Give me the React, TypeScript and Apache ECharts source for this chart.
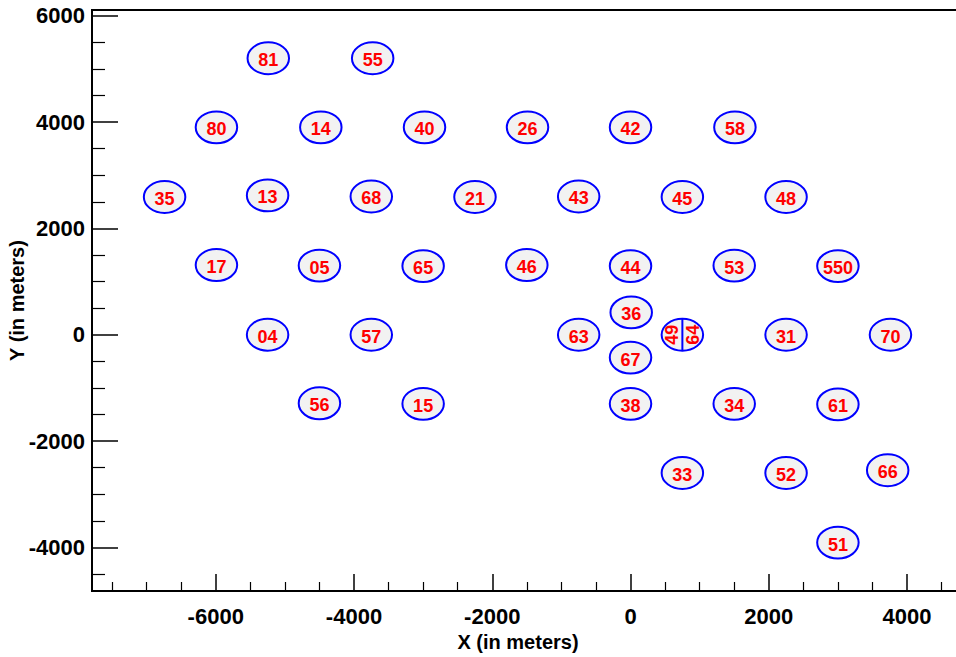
import React, { useEffect, useRef } from "react";
import * as echarts from "echarts";

// Station labels and positions (meters)
const stationIds = [
  "81", "55",
  "80", "14", "40", "26", "42", "58",
  "35", "13", "68", "21", "43", "45", "48",
  "17", "05", "65", "46", "44", "53", "550",
  "04", "57", "63", "36", "67", "49/64", "31", "70",
  "56", "15", "38", "34", "61",
  "33", "52", "66",
  "51",
];
const stationX = [
  -5240, -3730,
  -5990, -4480, -2980, -1490, 0, 1510,
  -6740, -5250, -3750, -2250, -750, 750, 2250,
  -5990, -4500, -3000, -1500, 0, 1500, 3000,
  -5250, -3750, -750, 10, 0, 750, 2250, 3760,
  -4500, -3000, 0, 1500, 3000,
  750, 2250, 3720,
  3000,
];
const stationY = [
  5200, 5200,
  3900, 3900, 3900, 3900, 3900, 3900,
  2590, 2620, 2600, 2590, 2600, 2590, 2590,
  1310, 1300, 1290, 1310, 1290, 1300, 1290,
  0, 0, 0, 420, -430, 0, 0, 0,
  -1290, -1300, -1300, -1300, -1310,
  -2600, -2600, -2550,
  -3910,
];
const STATION_DIAMETER = 600;

const xMajorTicks = [-6000, -4000, -2000, 0, 2000, 4000];
const xMinorTicks = [-7500, -7000, -6500, -5500, -5000, -4500, -3500, -3000, -2500, -1500, -1000, -500, 500, 1000, 1500, 2500, 3000, 3500, 4500];
const yMajorTicks = [-4000, -2000, 0, 2000, 4000, 6000];
const yMinorTicks = [-4500, -3500, -3000, -2500, -1500, -1000, -500, 500, 1000, 1500, 2500, 3000, 3500, 4500, 5000, 5500];

const X_MIN = -7790, X_MAX = 4766, Y_MIN = -4820, Y_MAX = 6107;

const FONT = "'Liberation Sans', Arial, Helvetica, sans-serif";

export default function App() {
  const ref = useRef<HTMLDivElement>(null);
  useEffect(() => {
    if (!ref.current) return;
    const chart = echarts.init(ref.current, undefined, { renderer: "svg" });
    const data = stationIds.map((id, i) => [stationX[i], stationY[i]]);
    const fmt = (v: number) => String(v);
    const baseX = {
      type: "value", min: X_MIN, max: X_MAX, gridIndex: 0, position: "bottom",
      splitLine: { show: false },
    };
    const baseY = {
      type: "value", min: Y_MIN, max: Y_MAX, gridIndex: 0, position: "left",
      splitLine: { show: false },
    };
    const option: any = {
      animation: false,
      backgroundColor: "#ffffff",
      grid: {
        left: 92, right: -4, top: 10, bottom: 66,
        containLabel: false, outerBoundsMode: "none",
        show: true, borderColor: "#000", borderWidth: 2, backgroundColor: "transparent",
      },
      xAxis: [
        {
          ...baseX,
          name: "X (in meters)", nameLocation: "middle", nameGap: 41, nameMoveOverlap: false,
          nameTextStyle: { fontFamily: FONT, fontWeight: "bold", fontSize: 20, color: "#000", padding: [0, 16, 0, 0] },
          axisLine: { show: true, onZero: false, lineStyle: { color: "#000", width: 2 } },
          axisTick: { show: true, inside: true, length: 17, customValues: xMajorTicks, lineStyle: { color: "#000", width: 1.5 } },
          axisLabel: { show: true, customValues: xMajorTicks, formatter: fmt, margin: 14, fontFamily: FONT, fontWeight: "bold", fontSize: 22, color: "#000" },
        },
        {
          ...baseX,
          axisLine: { show: false, onZero: false },
          axisTick: { show: true, inside: true, length: 9, customValues: xMinorTicks, lineStyle: { color: "#000", width: 1.2 } },
          axisLabel: { show: false },
        },
      ],
      yAxis: [
        {
          ...baseY,
          name: "Y (in meters)", nameLocation: "middle", nameGap: 65, nameMoveOverlap: false,
          nameTextStyle: { fontFamily: FONT, fontWeight: "bold", fontSize: 20, color: "#000" },
          axisLine: { show: true, onZero: false, lineStyle: { color: "#000", width: 2 } },
          axisTick: { show: true, inside: true, length: 26, customValues: yMajorTicks, lineStyle: { color: "#000", width: 1.5 } },
          axisLabel: { show: true, customValues: yMajorTicks, formatter: fmt, margin: 7, fontFamily: FONT, fontWeight: "bold", fontSize: 22, color: "#000" },
        },
        {
          ...baseY,
          axisLine: { show: false, onZero: false },
          axisTick: { show: true, inside: true, length: 13, customValues: yMinorTicks, lineStyle: { color: "#000", width: 1.2 } },
          axisLabel: { show: false },
        },
      ],
      series: [
        {
          type: "custom",
          coordinateSystem: "cartesian2d",
          xAxisIndex: 0,
          yAxisIndex: 0,
          clip: false,
          data,
          renderItem: (params: any, api: any) => {
            const id = stationIds[params.dataIndex];
            const c = api.coord([api.value(0), api.value(1)]);
            const s = api.size([STATION_DIAMETER, STATION_DIAMETER]);
            const rx = s[0] / 2;
            const ry = s[1] / 2;
            const children: any[] = [
              {
                type: "ellipse",
                shape: { cx: c[0], cy: c[1], rx, ry },
                style: { fill: "#f2f2f2", stroke: "#0000ff", lineWidth: 2 },
              },
            ];
            const textStyle = { fill: "#ff0000", fontFamily: FONT, fontWeight: "bold", fontSize: 18, align: "center", verticalAlign: "middle" };
            if (id.indexOf("/") >= 0) {
              const parts = id.split("/");
              children.push({
                type: "line",
                shape: { x1: c[0], y1: c[1] - ry, x2: c[0], y2: c[1] + ry },
                style: { stroke: "#0000ff", lineWidth: 2 },
              });
              children.push({ type: "text", x: c[0] - rx * 0.5, y: c[1], rotation: Math.PI / 2, style: { ...textStyle, text: parts[0] } });
              children.push({ type: "text", x: c[0] + rx * 0.5, y: c[1], rotation: Math.PI / 2, style: { ...textStyle, text: parts[1] } });
            } else {
              children.push({ type: "text", x: c[0], y: c[1] + 2, style: { ...textStyle, text: id } });
            }
            return { type: "group", children };
          },
        },
      ],
    };
    chart.setOption(option);
    return () => chart.dispose();
  }, []);
  return <div ref={ref} style={{ position: "fixed", left: 0, top: 0, width: 956, height: 657, background: "#fff" }} />;
}
